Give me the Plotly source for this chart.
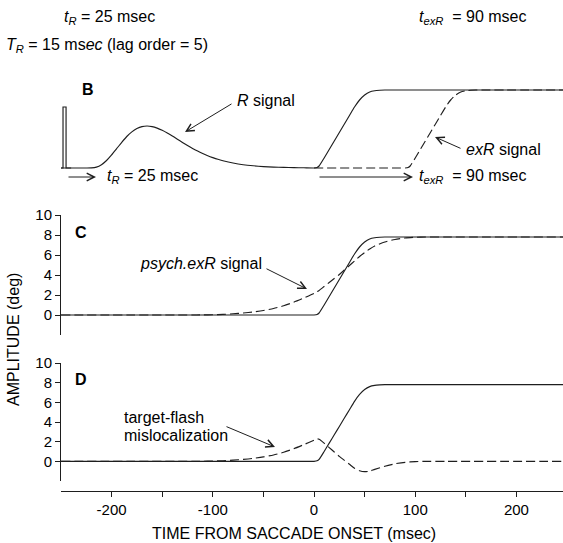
import plotly.graph_objects as go

W, H = 563, 543

# ---- data (time in msec from saccade onset, amplitude in deg) ----
# eye position during the saccade
sacc_t = [-250, -20, -5, 0, 3, 5, 10, 15, 20, 25, 30, 35, 40, 45, 50, 55, 60, 65, 70, 80, 100, 246]
sacc_v = [0, 0, 0, 0, 0.05, 0.2, 1.0, 1.85, 2.7, 3.55, 4.4, 5.25, 6.1, 6.8, 7.3, 7.6, 7.72, 7.77, 7.8, 7.8, 7.8, 7.8]

# brief flash (stimulus pulse) and the delayed R signal it evokes
pulse_t = [-250, -248, -248, -245, -245, -240]
pulse_v = [0, 0, 6.1, 6.1, 0, 0]

R_t = [-250, -225, -220, -215, -210, -205, -200, -195, -190, -185, -180, -175, -170, -165,
       -160, -155, -150, -145, -140, -135, -130, -125, -120, -115, -110, -105, -100, -95,
       -90, -80, -70, -60, -50, -40, -30, -20, -10]
R_v = [0, 0, 0.01, 0.09, 0.33, 0.75, 1.31, 1.94, 2.57, 3.15, 3.61, 3.94, 4.14, 4.2,
       4.14, 3.99, 3.77, 3.5, 3.2, 2.88, 2.56, 2.25, 1.96, 1.69, 1.45, 1.23, 1.04, 0.87,
       0.73, 0.5, 0.33, 0.22, 0.14, 0.09, 0.06, 0.036, 0.02]

# extraretinal signal lag
t_exR = 90

# psych.exR signal
psy_t = [-250, -120, -110, -100, -90, -80, -70, -60, -50, -40, -30, -20, -10, 0, 3, 5, 10, 15,
         20, 25, 30, 35, 40, 45, 50, 55, 60, 70, 80, 90, 100, 110, 130, 246]
psy_v = [0, 0, 0.01, 0.03, 0.06, 0.12, 0.2, 0.3, 0.45, 0.65, 0.92, 1.28, 1.7, 2.15, 2.33, 2.45, 2.85, 3.25,
         3.65, 4.05, 4.5, 4.95, 5.4, 5.85, 6.25, 6.6, 6.9, 7.3, 7.55, 7.7, 7.77, 7.8, 7.8, 7.8]

# target-flash mislocalization
mis_t = [-250, -120, -110, -100, -90, -80, -70, -60, -50, -40, -30, -20, -10, 0, 3, 5, 10, 15,
         20, 25, 30, 35, 40, 45, 50, 55, 60, 70, 80, 90, 100, 110, 130, 246]
mis_v = [0, 0, 0.01, 0.03, 0.06, 0.12, 0.2, 0.3, 0.45, 0.65, 0.92, 1.28, 1.7, 2.15, 2.28, 2.25, 1.85, 1.4,
         0.95, 0.5, 0.1, -0.3, -0.7, -0.95, -1.05, -1.0, -0.82, -0.5, -0.25, -0.1, -0.03, 0, 0, 0]

y_ticks = [0, 2, 4, 6, 8, 10]
x_ticks = [-200, -100, 0, 100, 200]
x_ticktext = ["-200", "-100", "0", "100", "200"]
x_minor_ticks = [-150, -50, 50, 150]

# ---- derived traces ----
exR_t = [0] + [t + t_exR for t in sacc_t if t + t_exR > 0]
exR_v = [0] + [v for t, v in zip(sacc_t, sacc_v) if t + t_exR > 0]

b_t = R_t + sacc_t[3:]
b_v = R_v + sacc_v[3:]

INK = "#1e1e1e"
LW = 1.15
DASH = "9px,4px"
FONT = "Liberation Sans, Arial, sans-serif"


def px(x, y):
    """pixel position -> paper coordinates (figure has no margins)"""
    return x / W, 1 - y / H


fig = go.Figure()


def line(x, y, ax, dash=None, shape="spline"):
    fig.add_trace(go.Scatter(
        x=x, y=y, mode="lines", xaxis=ax[0], yaxis=ax[1],
        line=dict(color=INK, width=LW, dash=dash, shape=shape, smoothing=0.6 if shape == "spline" else None),
        hoverinfo="skip", showlegend=False))


# panel B
line(pulse_t, pulse_v, ("x", "y"), shape="linear")
line(b_t, b_v, ("x", "y"))
line(exR_t, exR_v, ("x", "y"), dash=DASH)
# panel C
line(sacc_t, sacc_v, ("x2", "y2"))
line(psy_t, psy_v, ("x2", "y2"), dash=DASH)
# panel D
line(sacc_t, sacc_v, ("x3", "y3"))
line(mis_t, mis_v, ("x3", "y3"), dash=DASH)

x_dom = [61 / W, 1.0]
x_rng = [-250, 246]
hidden_x = dict(domain=x_dom, range=x_rng, visible=False, fixedrange=True)

y_common = dict(range=[-2, 10], tickvals=y_ticks, ticks="outside", ticklen=5, tickwidth=1,
                tickcolor=INK, showline=True, linecolor=INK, linewidth=1, showgrid=False,
                zeroline=False, tickfont=dict(family=FONT, size=15, color="#000"))

fig.update_layout(
    width=W, height=H, margin=dict(l=0, r=0, t=0, b=0, pad=0, autoexpand=False),
    paper_bgcolor="white", plot_bgcolor="white",
    font=dict(family=FONT, size=16, color="#000"),
    xaxis=dict(**hidden_x, anchor="y"),
    xaxis2=dict(**hidden_x, anchor="y2"),
    xaxis3=dict(domain=x_dom, range=x_rng, anchor="free", position=1 - 491 / H,
                tickmode="array", tickvals=x_ticks, ticktext=x_ticktext,
                ticks="outside", ticklen=5, tickwidth=1,
                minor=dict(tickmode="array", tickvals=x_minor_ticks, ticks="outside",
                           ticklen=5, tickwidth=1, tickcolor=INK, showgrid=False),
                tickcolor=INK, showline=True, linecolor=INK, linewidth=1, showgrid=False,
                zeroline=False, tickfont=dict(family=FONT, size=15, color="#000")),
    yaxis=dict(domain=[1 - 180 / H, 1 - 80 / H], range=[-1.2, 8.8], visible=False, anchor="x"),
    yaxis2=dict(domain=[1 - 335 / H, 1 - 215 / H], anchor="x2", **y_common),
    yaxis3=dict(domain=[1 - 481 / H, 1 - 363 / H], anchor="x3", **y_common),
)

texts = [
    ("<i>t</i><sub><i>R</i></sub> = 25 msec", 62, 17),
    ("<i>T</i><sub><i>R</i></sub> = 15 ms<i>ec</i> (lag order = 5)", 4, 45),
    ("<i>t</i><sub><i>exR</i></sub>  = 90 msec", 417, 17),
    ("<b>B</b>", 80, 89),
    ("<i>R</i> signal", 235, 101),
    ("<i>t</i><sub><i>R</i></sub> = 25 msec", 105, 177),
    ("<i>exR</i> signal", 464, 150),
    ("<i>t</i><sub><i>exR</i></sub>  = 90 msec", 417, 177),
    ("<b>C</b>", 73, 232),
    ("<i>psych.exR</i> signal", 138, 263),
    ("<b>D</b>", 73, 379),
    ("target-flash", 122, 417),
    ("mislocalization", 122, 435),
]
for txt, x, y in texts:
    xp, yp = px(x, y)
    fig.add_annotation(text=txt, x=xp, y=yp, xref="paper", yref="paper",
                       xanchor="left", yanchor="middle", showarrow=False,
                       font=dict(family=FONT, size=16, color="#000"))

# axis titles
xp, yp = px(294, 533)
fig.add_annotation(text="TIME FROM SACCADE ONSET (msec)", x=xp, y=yp, xref="paper", yref="paper",
                   xanchor="center", yanchor="middle", showarrow=False,
                   font=dict(family=FONT, size=16, color="#000"))
xp, yp = px(13, 340)
fig.add_annotation(text="AMPLITUDE (deg)", x=xp, y=yp, xref="paper", yref="paper", textangle=-90,
                   xanchor="center", yanchor="middle", showarrow=False,
                   font=dict(family=FONT, size=16, color="#000"))

# pointer arrows: (tail x, tail y) -> (head x, head y) in pixels
arrows = [
    (233, 103, 185, 132),
    (462, 149, 435, 137),
    (67, 177, 96, 177),
    (318, 177, 413, 177),
    (265, 268, 307, 289),
    (225, 426, 275, 447),
]
for tx, ty, hx, hy in arrows:
    xp, yp = px(hx, hy)
    fig.add_annotation(text="", x=xp, y=yp, xref="paper", yref="paper",
                       ax=tx - hx, ay=ty - hy, axref="pixel", ayref="pixel",
                       showarrow=True, arrowhead=5, arrowsize=1.5, arrowwidth=1,
                       arrowcolor=INK, standoff=0, startstandoff=0)

fig.write_html("out.html")
